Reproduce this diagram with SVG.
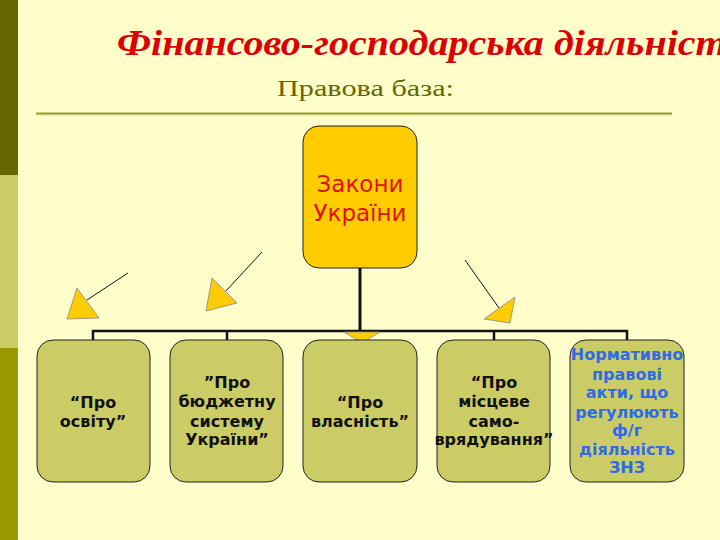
<svg xmlns="http://www.w3.org/2000/svg" width="720" height="540" viewBox="0 0 720 540">
<style>
.box{fill:#CCCC66;stroke:#222;stroke-width:1}
.top{fill:#FFCC00;stroke:#222;stroke-width:1}
.t{font-family:"DejaVu Sans",Verdana,sans-serif;font-weight:bold;font-size:16px;fill:#111;text-anchor:middle}
.b{fill:#2E6BE6}
.tri{fill:#FFCC00;stroke:#888;stroke-width:0.8}
.ln{stroke:#111;stroke-width:1;fill:none}
.con{stroke:#111;fill:none}
.z{font-family:"DejaVu Sans",Verdana,sans-serif;font-size:23px;fill:#DD1111;text-anchor:middle}
</style>
<rect x="0" y="0" width="720" height="540" fill="#FFFFCC"/>
<rect x="0" y="0" width="18" height="175" fill="#666600"/>
<rect x="0" y="175" width="18" height="173" fill="#CCCC66"/>
<rect x="0" y="348" width="18" height="192" fill="#999900"/>
<text x="117" y="55" font-family="'Liberation Serif',serif" font-style="italic" font-weight="bold" font-size="35" fill="#DD0000" textLength="628" lengthAdjust="spacingAndGlyphs">Фінансово-господарська діяльність</text>
<text x="277" y="96" font-family="'Liberation Serif',serif" font-size="23" fill="#666600" textLength="177" lengthAdjust="spacingAndGlyphs">Правова база:</text>
<line x1="36" y1="115" x2="672" y2="115" stroke="#EEEEAA" stroke-width="2"/>
<line x1="36" y1="113.5" x2="672" y2="113.5" stroke="#999933" stroke-width="2"/>
<g id="connectors">
<line class="con" x1="360" y1="268" x2="360" y2="331" stroke-width="3"/>
<polyline class="con" stroke-width="2.5" points="93,340 93,331 627,331 627,340"/>
<line class="con" x1="227" y1="331" x2="227" y2="340" stroke-width="2.5"/>
<line class="con" x1="494" y1="331" x2="494" y2="340" stroke-width="2.5"/>
<polygon class="tri" points="344,332 380,332 362,343"/>
<line class="ln" x1="128" y1="273" x2="87" y2="300"/>
<polygon class="tri" points="77,288 99,318 67,319"/>
<line class="ln" x1="262" y1="252" x2="225" y2="292"/>
<polygon class="tri" points="212,278 237,303 206,311"/>
<line class="ln" x1="465" y1="260" x2="499" y2="308"/>
<polygon class="tri" points="515,297 484,319 510,323"/>
</g>
<g id="n0">
<rect class="top" x="303" y="126" width="114" height="142" rx="16"/>
<text class="z" x="360" y="192">Закони</text>
<text class="z" x="360" y="221">України</text>
</g>
<g id="n1">
<rect class="box" x="37" y="340" width="113" height="142" rx="16"/>
<text class="t" x="93" y="408">“Про</text>
<text class="t" x="93" y="427">освіту”</text>
</g>
<g id="n2">
<rect class="box" x="170" y="340" width="113" height="142" rx="16"/>
<text class="t" x="227" y="388">”Про</text>
<text class="t" x="227" y="407">бюджетну</text>
<text class="t" x="227" y="427">систему</text>
<text class="t" x="227" y="445">України”</text>
</g>
<g id="n3">
<rect class="box" x="303" y="340" width="114" height="142" rx="16"/>
<text class="t" x="360" y="408">“Про</text>
<text class="t" x="360" y="427">власність”</text>
</g>
<g id="n4">
<rect class="box" x="437" y="340" width="113" height="142" rx="16"/>
<text class="t" x="494" y="388">“Про</text>
<text class="t" x="494" y="407">місцеве</text>
<text class="t" x="494" y="427">само-</text>
<text class="t" x="494" y="445">врядування”</text>
</g>
<g id="n5">
<rect class="box" x="570" y="340" width="114" height="142" rx="16"/>
<text class="t b" x="627" y="360">Нормативно</text>
<text class="t b" x="627" y="380">правові</text>
<text class="t b" x="627" y="398">акти, що</text>
<text class="t b" x="627" y="418">регулюють</text>
<text class="t b" x="627" y="436">ф/г</text>
<text class="t b" x="627" y="455">діяльність</text>
<text class="t b" x="627" y="473">ЗНЗ</text>
</g>
</svg>
